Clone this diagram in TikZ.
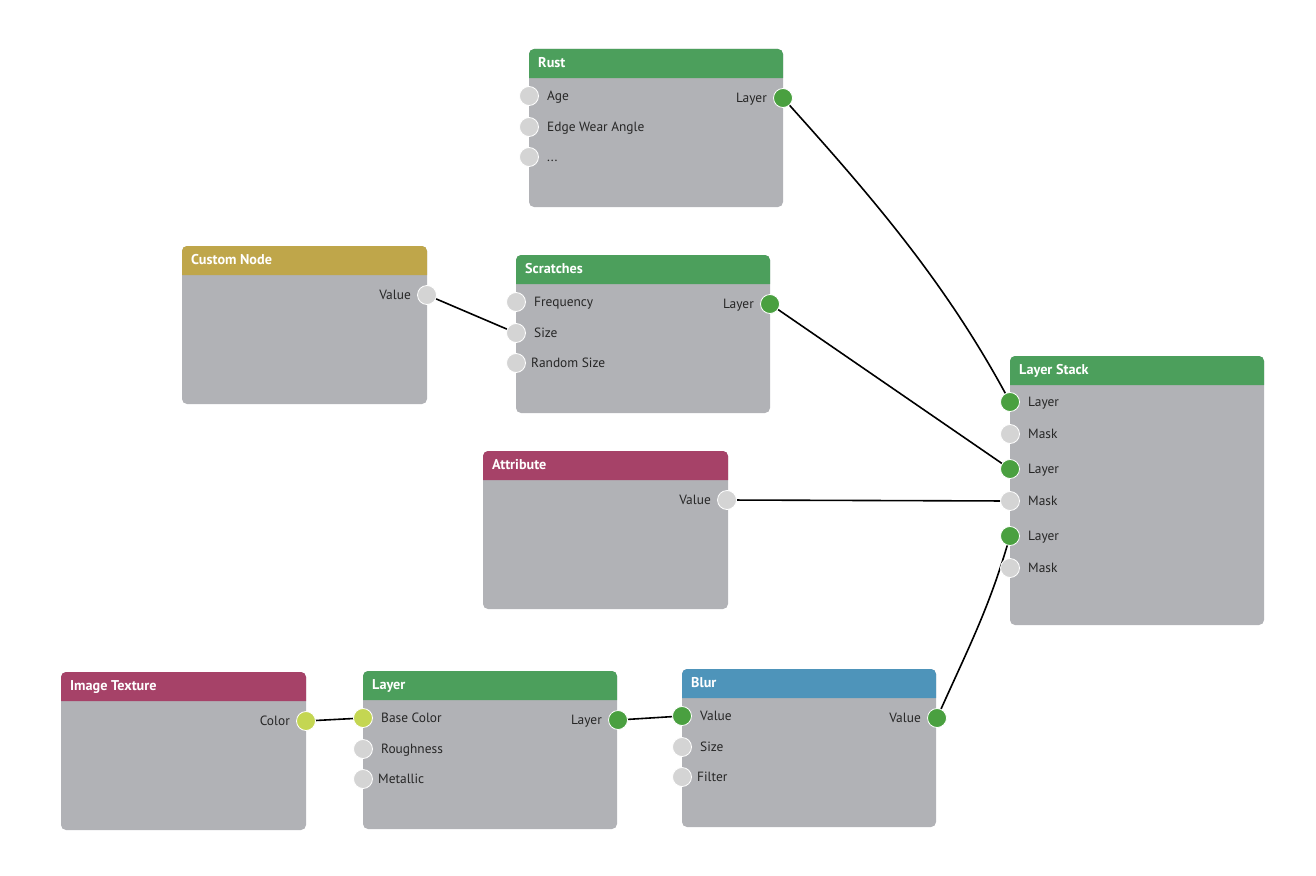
\documentclass[tikz,border=0pt]{standalone}
\usepackage{fontspec}
\setmainfont{PT Sans}
\usetikzlibrary{positioning,calc,backgrounds}
\definecolor{bodygray}{RGB}{177,178,182}
\definecolor{layergreen}{RGB}{76,159,92}
\definecolor{customgold}{RGB}{191,166,74}
\definecolor{attrred}{RGB}{166,66,104}
\definecolor{blurblue}{RGB}{78,148,186}
\definecolor{portgray}{RGB}{212,212,212}
\definecolor{portgreen}{RGB}{74,160,64}
\definecolor{portyellow}{RGB}{196,214,82}
\tikzset{
  cardbody/.style={fill=bodygray, rounded corners=5pt, inner sep=0pt, outer sep=0pt},
  cardtitle/.style={anchor=base west, text=white, inner sep=0pt, font=\bfseries\fontsize{14.2}{16}\selectfont},
  port/.style={circle, draw=white, line width=0.8pt, minimum size=19pt, inner sep=0pt, fill=portgray},
  portlbl/.style={inner sep=0pt, text=black!85, font=\fontsize{13.4}{15}\selectfont},
  wire/.style={line width=1.6pt, black, line cap=round},
}
% card: name, left, top, width, height, header colour, title
\newcommand{\nodecard}[7]{%
  \node[cardbody, minimum width=#4, minimum height=#5, anchor=north west] (#1) at (#2,#3) {};
  \fill[#6] ($(#1.north west)+(0,29)$) [rounded corners=5pt] -- (#1.north west) -- (#1.north east)
    [sharp corners] -- ($(#1.north east)+(0,29)$) -- cycle;
  \node[cardtitle] (#1-title) at ($(#1.north west)+(9,18)$) {#7};
}
% input socket: [label gap] name, x, y, fill, label
\newcommand{\inport}[6][18]{%
  \node[port, fill=#5] (#2) at (#3,#4) {};
  \node[portlbl, anchor=base west] (#2-lbl) at ($(#2.center)+(#1,4.5)$) {#6};
}
% output socket: name, x, y, fill, label
\newcommand{\outport}[5]{%
  \node[port, fill=#4] (#1) at (#2,#3) {};
  \node[portlbl, anchor=base east] (#1-lbl) at ($(#1.center)+(-16,4.5)$) {#5};
}

\begin{document}
\begin{tikzpicture}[x=1pt, y=-1pt]
  \useasboundingbox (0,0) rectangle (1316,875);

  % cards
  \nodecard{rust}{529}{49}{254}{158}{layergreen}{Rust}
  \nodecard{custom}{182}{246}{245}{158}{customgold}{Custom Node}
  \nodecard{scratch}{516}{255}{254}{158}{layergreen}{Scratches}
  \nodecard{attr}{483}{451}{245}{158}{attrred}{Attribute}
  \nodecard{stack}{1010}{356}{254}{269}{layergreen}{Layer Stack}
  \nodecard{imgtex}{61}{672}{245}{158}{attrred}{Image Texture}
  \nodecard{layer}{363}{671}{254}{158}{layergreen}{Layer}
  \nodecard{blur}{682}{669}{254}{158}{blurblue}{Blur}

  % sockets
  \inport{rust-age}{529}{96}{portgray}{Age}
  \inport{rust-edge}{529}{127}{portgray}{Edge Wear Angle}
  \inport{rust-more}{529}{157}{portgray}{...}
  \outport{rust-out}{783}{98}{portgreen}{Layer}

  \outport{custom-out}{427}{295}{portgray}{Value}

  \inport{scratch-freq}{516}{302}{portgray}{Frequency}
  \inport{scratch-size}{516}{333}{portgray}{Size}
  \inport[15]{scratch-rand}{516}{363}{portgray}{Random Size}
  \outport{scratch-out}{770}{304}{portgreen}{Layer}

  \outport{attr-out}{727}{500}{portgray}{Value}

  \inport{stack-l1}{1010}{402}{portgreen}{Layer}
  \inport{stack-m1}{1010}{434}{portgray}{Mask}
  \inport{stack-l2}{1010}{469}{portgreen}{Layer}
  \inport{stack-m2}{1010}{501}{portgray}{Mask}
  \inport{stack-l3}{1010}{536}{portgreen}{Layer}
  \inport{stack-m3}{1010}{568}{portgray}{Mask}

  \outport{imgtex-out}{306}{721}{portyellow}{Color}

  \inport{layer-base}{363}{718}{portyellow}{Base Color}
  \inport{layer-rough}{363}{749}{portgray}{Roughness}
  \inport[15]{layer-metal}{363}{779}{portgray}{Metallic}
  \outport{layer-out}{618}{720}{portgreen}{Layer}

  \inport{blur-in}{682}{716}{portgreen}{Value}
  \inport{blur-size}{682}{747}{portgray}{Size}
  \inport[15]{blur-filter}{682}{777}{portgray}{Filter}
  \outport{blur-out}{937}{718}{portgreen}{Value}

  % wires, kept under the cards
  \begin{pgfonlayer}{background}
    \draw[wire] (rust-out.center) to[out=-48, in=118, looseness=0.9] (stack-l1.center);
    \draw[wire] (scratch-out.center) -- (stack-l2.center);
    \draw[wire] (custom-out.center) -- (scratch-size.center);
    \draw[wire] (attr-out.center) -- (stack-m2.center);
    \draw[wire] (blur-out.center) to[out=66, in=-106] (stack-l3.center);
    \draw[wire] (imgtex-out.center) -- (layer-base.center);
    \draw[wire] (layer-out.center) -- (blur-in.center);
  \end{pgfonlayer}
\end{tikzpicture}
\end{document}
